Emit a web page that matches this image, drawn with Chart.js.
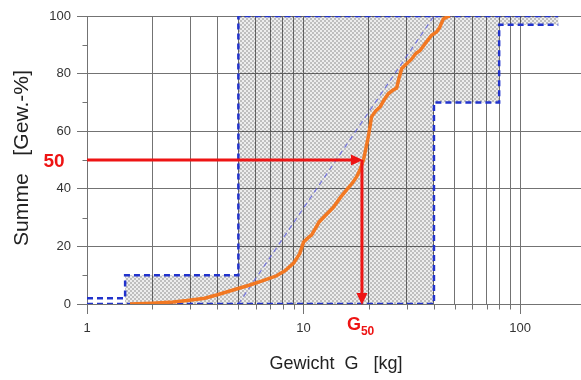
<!DOCTYPE html>
<html>
<head>
<meta charset="utf-8">
<script src="https://cdn.jsdelivr.net/npm/chart.js@4/dist/chart.umd.min.js"></script>
<style>
  html, body { margin: 0; padding: 0; background: #fff; }
  #wrap { width: 581px; height: 380px; }
</style>
</head>
<body>
<div id="wrap"><canvas id="c" width="581" height="380"></canvas></div>
<script>
// ---- data ----
const xTickValues = [1,2,3,4,5,6,7,8,9,10,20,30,40,50,60,70,80,90,100];
const xLabelValues = [1,10,100];
const yMinorValues = [10,30,50,70,90];

const curveX = [1.58,2.0,2.5,2.9,3.5,4.0,4.9,5.6,6.3,7.0,7.5,8.2,9.0,9.6,10.0,10.5,10.9,11.4,11.8,12.7,13.7,14.8,15.8,16.8,17.6,18.3,18.9,19.4,19.9,20.3,20.6,21.5,22.6,23.6,24.6,25.8,26.9,27.6,28.4,30.0,31.5,33.0,34.5,36.5,39.0,41.2,42.5,44.2,46.0,47.5];
const curveY = [0,0.3,0.7,1.2,2.0,3.2,5.2,6.5,7.8,9.0,9.8,11.5,14.2,17.5,21.5,23,24,26.5,28.5,31,33.5,37,39.6,42,44.2,47,50,54,58,62,65,67,68.5,71,73,74.2,75,78.5,81.8,83.5,85,87,88,90.5,93.3,94.5,96,99,99.7,100];

const upperX = [1,1.5,1.5,5,5,150];
const upperY = [2,2,10,10,100,100];
const lowerX = [1,40,40,80,80,150];
const lowerY = [0,0,70,70,97,97];
const bandX = [1.5,1.5,5,5,150,150,80,80,40,40];
const bandY = [0,10,10,100,100,97,97,70,70,0];
const diagX = [5,40];
const diagY = [0,100];

const g50 = 18.6;
const level = 50;

// ---- helpers ----
const pts = (xs, ys) => xs.map((x, i) => ({x: x, y: ys[i]}));

function makePattern() {
  const p = document.createElement('canvas');
  p.width = 4; p.height = 4;
  const g = p.getContext('2d');
  g.fillStyle = 'rgba(0,0,0,0.07)';
  g.fillRect(0, 0, 4, 4);
  g.fillStyle = 'rgba(0,0,0,0.2)';
  g.fillRect(0, 0, 2, 2);
  g.fillRect(2, 2, 2, 2);
  return document.getElementById('c').getContext('2d').createPattern(p, 'repeat');
}

const FONT = "'Liberation Sans', Arial, Helvetica, sans-serif";
const GRID = '#737373';

const extrasPlugin = {
  id: 'extras',
  beforeDatasetsDraw(chart) {
    const ctx = chart.ctx, xs = chart.scales.x, ys = chart.scales.y;
    ctx.save();
    ctx.strokeStyle = GRID;
    ctx.lineWidth = 1;
    ctx.beginPath();
    const xl = Math.round(xs.getPixelForValue(1)) + 0.5;
    yMinorValues.forEach(v => {
      const py = Math.round(ys.getPixelForValue(v)) + 0.5;
      ctx.moveTo(xl - 5, py); ctx.lineTo(xl, py);
    });
    const yb = Math.round(ys.getPixelForValue(0)) + 0.5;
    xTickValues.filter(v => !xLabelValues.includes(v)).forEach(v => {
      const px = Math.round(xs.getPixelForValue(v)) + 0.5;
      ctx.moveTo(px, yb); ctx.lineTo(px, yb + 5);
    });
    ctx.stroke();
    ctx.restore();
  },
  afterDatasetsDraw(chart) {
    const ctx = chart.ctx, xs = chart.scales.x, ys = chart.scales.y;
    const x0 = xs.getPixelForValue(1);
    const xg = xs.getPixelForValue(g50);
    const yl = ys.getPixelForValue(level);
    const y0 = ys.getPixelForValue(0);
    const red = '#ee1414';
    const head = 11, hw = 5.5;
    ctx.save();
    ctx.strokeStyle = red;
    ctx.fillStyle = red;
    ctx.lineWidth = 3;
    ctx.lineCap = 'butt';
    ctx.beginPath();
    ctx.moveTo(x0, yl);
    ctx.lineTo(xg - head + 1, yl);
    ctx.stroke();
    ctx.beginPath();
    ctx.moveTo(xg + 1, yl);
    ctx.lineTo(xg - head, yl - hw);
    ctx.lineTo(xg - head, yl + hw);
    ctx.closePath();
    ctx.fill();
    ctx.beginPath();
    ctx.moveTo(xg, yl);
    ctx.lineTo(xg, y0 - head + 1);
    ctx.stroke();
    ctx.beginPath();
    ctx.moveTo(xg, y0 + 1);
    ctx.lineTo(xg - hw, y0 - head);
    ctx.lineTo(xg + hw, y0 - head);
    ctx.closePath();
    ctx.fill();
    ctx.restore();
  },
  afterDraw(chart) {
    const ctx = chart.ctx, xs = chart.scales.x, ys = chart.scales.y;
    ctx.save();
    ctx.fillStyle = '#222';
    ctx.font = '20px ' + FONT;
    ctx.textAlign = 'center';
    ctx.textBaseline = 'middle';
    const yt = 'Summe   [Gew.-%]';
    ctx.save();
    ctx.translate(22, 158);
    ctx.rotate(-Math.PI / 2);
    const wy = ctx.measureText(yt).width;
    ctx.scale(176 / wy, 1);
    ctx.fillText(yt, 0, 0);
    ctx.restore();
    ctx.font = '19px ' + FONT;
    const xt = 'Gewicht  G   [kg]';
    ctx.save();
    ctx.translate(336, 364);
    const wx = ctx.measureText(xt).width;
    ctx.scale(133 / wx, 1);
    ctx.fillText(xt, 0, 0);
    ctx.restore();
    ctx.fillStyle = '#ee1414';
    ctx.font = 'bold 19px ' + FONT;
    ctx.textAlign = 'center';
    ctx.textBaseline = 'alphabetic';
    ctx.fillText(String(level), 54, ys.getPixelForValue(level) + 7);
    ctx.textAlign = 'left';
    ctx.font = 'bold 18px ' + FONT;
    const gx = xs.getPixelForValue(g50) - 15;
    ctx.fillText('G', gx, 330);
    const gw = ctx.measureText('G').width;
    ctx.font = 'bold 12px ' + FONT;
    ctx.fillText(String(level), gx + gw, 335);
    ctx.restore();
  }
};

const ctx = document.getElementById('c').getContext('2d');
const pattern = makePattern();

new Chart(ctx, {
  type: 'line',
  data: {
    datasets: [
      {
        data: pts(curveX, curveY),
        borderColor: '#f27822',
        borderWidth: 3.5,
        pointRadius: 0,
        tension: 0,
        fill: false,
        order: 1
      },
      {
        data: pts(upperX, upperY),
        borderColor: '#2233cc',
        borderWidth: 2.5,
        borderDash: [6, 4],
        pointRadius: 0,
        fill: false,
        order: 3
      },
      {
        data: pts(lowerX, lowerY),
        borderColor: '#2233cc',
        borderWidth: 2.5,
        borderDash: [6, 4],
        pointRadius: 0,
        fill: false,
        order: 3
      },
      {
        data: pts(diagX, diagY),
        borderColor: 'rgba(100,100,225,0.85)',
        borderWidth: 1.2,
        borderDash: [5, 4],
        pointRadius: 0,
        fill: false,
        order: 5
      },
      {
        data: pts(bandX, bandY),
        borderColor: 'rgba(0,0,0,0)',
        borderWidth: 0,
        backgroundColor: pattern,
        pointRadius: 0,
        fill: 'shape',
        order: 10
      }
    ]
  },
  options: {
    responsive: false,
    animation: false,
    devicePixelRatio: 1,
    layout: { padding: { top: 16, left: 0, right: 0, bottom: 0 } },
    plugins: {
      legend: { display: false },
      tooltip: { enabled: false },
      title: { display: false }
    },
    scales: {
      x: {
        type: 'logarithmic',
        min: 1,
        max: 191,
        afterBuildTicks: (scale) => { scale.ticks = xTickValues.map(v => ({ value: v })); },
        afterFit: (scale) => { scale.height = 76; },
        grid: {
          color: GRID,
          lineWidth: 1,
          tickLength: 10,
          tickColor: (c) => (c.tick && xLabelValues.includes(c.tick.value)) ? GRID : 'rgba(0,0,0,0)'
        },
        border: { display: true, color: GRID, width: 1 },
        ticks: {
          autoSkip: false,
          maxRotation: 0,
          minRotation: 0,
          padding: 7,
          color: '#333',
          font: { family: FONT, size: 13 },
          callback: (v) => xLabelValues.includes(v) ? String(v) : ''
        }
      },
      y: {
        type: 'linear',
        min: 0,
        max: 100,
        afterFit: (scale) => { scale.width = 87; },
        grid: {
          color: GRID,
          lineWidth: 1,
          tickLength: 10,
          tickColor: GRID
        },
        border: { display: true, color: GRID, width: 1 },
        ticks: {
          stepSize: 20,
          padding: 6,
          color: '#333',
          font: { family: FONT, size: 13 }
        }
      }
    }
  },
  plugins: [extrasPlugin]
});
</script>
</body>
</html>
